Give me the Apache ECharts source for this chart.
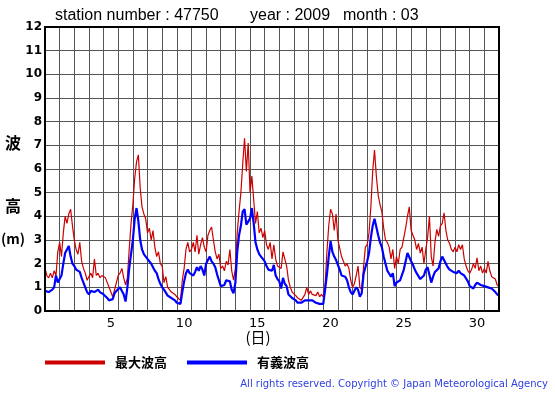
<!DOCTYPE html>
<html><head><meta charset="utf-8">
<script src="https://cdn.jsdelivr.net/npm/echarts@6/dist/echarts.min.js"></script>
<style>html,body{margin:0;padding:0;background:#fff}#c{width:555px;height:395px}</style>
</head><body><div id="c"></div>
<script>
// 3-hourly observations, March 2009, station 47750 (index i -> day offset i/8)
const maxWave = [
1.8,1.5,1.4,1.6,1.4,1.7,1.5,2.5,
2.9,2.3,3.3,4.0,3.7,4.1,4.3,3.6,
3.0,2.6,2.4,2.9,2.1,1.8,1.6,1.3,
1.3,1.6,1.4,2.2,1.5,1.6,1.4,1.5,
1.5,1.4,1.2,1.0,0.8,0.6,0.9,1.2,
1.5,1.6,1.8,1.4,1.1,1.4,2.6,3.7,
4.5,5.6,6.3,6.6,5.2,4.4,4.1,3.9,
3.3,3.5,3.0,3.4,2.7,2.3,2.5,2.0,
1.9,1.2,1.45,1.0,0.9,0.8,0.85,0.7,
0.6,0.55,0.45,1.3,1.8,2.6,2.9,2.5,
2.6,2.9,2.5,3.2,2.4,2.8,3.1,2.7,
2.5,3.2,3.4,3.55,3.0,2.5,2.2,2.4,
1.8,1.9,1.7,2.1,1.95,2.6,1.7,1.3,
1.8,3.3,4.2,5.0,6.2,7.3,5.9,7.1,
5.0,5.7,4.7,3.7,4.2,3.3,3.5,3.1,
3.4,2.8,2.6,2.9,2.2,2.8,2.2,1.9,
1.85,1.8,2.5,2.5,1.9,1.3,1.0,0.8,
0.75,0.65,0.55,0.5,0.45,0.5,0.7,1.0,
0.7,0.85,0.7,0.75,0.65,0.8,0.6,0.7,
0.6,1.1,2.5,3.6,4.3,4.1,3.4,4.1,
3.0,3.0,2.3,2.1,1.9,2.0,1.8,1.3,
1.0,1.15,1.5,1.9,1.0,0.9,1.85,2.7,
2.8,3.3,4.4,5.9,6.8,5.7,4.9,4.5,
4.2,3.5,3.0,2.9,2.7,2.2,2.6,1.8,
2.3,2.0,2.6,2.7,3.1,3.5,4.0,4.4,
3.4,3.2,3.0,2.6,2.85,2.45,2.7,2.0,
2.6,3.1,4.0,2.3,1.9,2.9,3.45,3.15,
3.6,3.7,4.15,3.4,3.0,2.85,2.6,2.5,
2.7,2.5,2.8,2.6,2.8,2.2,1.9,1.7,
1.6,1.75,2.0,1.8,2.25,1.7,1.9,1.6,
1.8,1.6,2.1,1.7,1.45,1.4,1.35,1.1,
1.05
];
const sigWave = [
0.85,0.85,0.8,0.85,0.9,1.0,1.5,1.2,
1.15,1.5,2.0,2.45,2.4,2.75,2.3,2.0,
1.9,1.75,1.7,1.65,1.4,1.2,1.0,0.8,
0.7,0.85,0.9,0.8,0.85,0.9,0.8,0.75,
0.7,0.65,0.55,0.45,0.4,0.5,0.75,0.85,
0.8,1.0,0.85,0.7,0.4,1.0,1.8,2.4,
3.0,3.9,4.35,3.8,3.0,2.6,2.4,2.3,
2.25,2.1,2.0,1.85,1.7,1.6,1.35,1.15,
1.0,0.9,0.85,0.65,0.6,0.55,0.55,0.45,
0.35,0.35,0.3,0.8,1.25,1.6,1.75,1.6,
1.55,1.5,1.65,1.85,1.7,1.9,1.75,1.5,
2.0,2.15,2.3,2.1,2.0,1.85,1.55,1.3,
1.05,1.0,1.1,1.3,1.35,1.25,0.9,0.75,
1.2,2.5,3.2,3.6,4.2,4.3,3.65,3.7,
3.9,4.35,3.7,2.9,2.6,2.4,2.3,2.2,
2.1,1.9,1.75,1.7,1.7,1.95,1.5,1.35,
1.25,0.95,1.4,1.15,1.05,0.7,0.62,0.55,
0.5,0.45,0.35,0.3,0.35,0.4,0.45,0.45,
0.45,0.5,0.45,0.45,0.35,0.35,0.3,0.3,
0.3,0.9,1.55,2.3,2.95,2.5,2.3,2.15,
2.1,1.75,1.5,1.5,1.45,1.3,1.0,0.8,
0.7,0.75,1.0,0.9,0.6,0.75,1.55,1.85,
2.1,2.45,3.1,3.6,3.9,3.55,3.2,2.9,
2.7,2.3,2.0,1.7,1.75,1.45,1.6,1.05,
1.2,1.25,1.3,1.35,1.75,2.1,2.45,2.45,
2.1,1.95,1.75,1.6,1.65,1.35,1.4,1.5,
1.75,1.85,1.9,1.2,1.45,1.65,1.7,1.8,
2.1,2.3,2.3,2.0,1.85,1.75,1.7,1.65,
1.7,1.6,1.7,1.6,1.65,1.5,1.45,1.25,
1.05,1.0,0.95,1.1,1.2,1.15,1.1,1.05,
1.05,1.05,1.0,0.95,0.95,0.9,0.8,0.7,
0.65
];
const days = ['1','2','3','4','5','6','7','8','9','10','11','12','13','14','15','16','17','18','19','20','21','22','23','24','25','26','27','28','29','30','31'];
const shownDays = ['5','10','15','20','25','30'];
const yTicks = [0,1,2,3,4,5,6,7,8,9,10,11,12];
const seriesNames = ['最大波高','有義波高'];
const titleParts = ['station number : 47750','year : 2009','month : 03'];
const copyright = 'All rights reserved. Copyright © Japan Meteorological Agency';

const STEP = 1/8; // 3 hours in days
const toPairs = arr => arr.map((v,i)=>[i*STEP, v]);

const chart = echarts.init(document.getElementById('c'), null, {renderer:'canvas'});
const latin = 'Liberation Sans, Arial, sans-serif';
const cjk = '"Noto Sans CJK JP", sans-serif';
chart.setOption({
  animation:false,
  backgroundColor:'#fff',
  grid:{left:45, top:27, width:454, height:284, show:true, borderColor:'#000', borderWidth:2, backgroundColor:'transparent', z:5},
  legend:{
    left:45, top:356, padding:0, icon:'rect', itemWidth:60, itemHeight:4, itemGap:20,
    data:seriesNames,
    textStyle:{fontFamily:cjk, fontWeight:'bold', fontSize:13, color:'#000', padding:[0,0,0,5]}
  },
  xAxis:[
    {type:'value', min:0, max:31, interval:1, axisLine:{show:false}, axisTick:{show:false},
     axisLabel:{show:false}, splitLine:{show:true, lineStyle:{color:'#555', width:1}}},
    {type:'category', data:days, position:'bottom', boundaryGap:true,
     axisLine:{show:false}, axisTick:{show:false}, splitLine:{show:false},
     axisLabel:{interval:0, margin:6, color:'#000', fontFamily:'DejaVu Sans', fontSize:13,
       formatter:v=> shownDays.indexOf(v)>=0 ? v : ''}}
  ],
  yAxis:{type:'value', min:yTicks[0], max:yTicks[yTicks.length-1], interval:1,
    axisLine:{show:false}, axisTick:{show:false},
    axisLabel:{color:'#000', fontFamily:'DejaVu Sans', fontWeight:'bold', fontSize:12, margin:3},
    splitLine:{show:true, lineStyle:{color:'#555', width:1}}},
  series:[
    {name:seriesNames[0], type:'line', xAxisIndex:0, showSymbol:false, symbol:'none',
     data:toPairs(maxWave), lineStyle:{color:'#cc0000', width:1.2}, itemStyle:{color:'#cc0000'}, z:3},
    {name:seriesNames[1], type:'line', xAxisIndex:0, showSymbol:false, symbol:'none',
     data:toPairs(sigWave), lineStyle:{color:'#0000ff', width:2.2}, itemStyle:{color:'#0000ff'}, z:4}
  ],
  graphic:[
    {type:'text', left:55, top:8, style:{text:titleParts[0], font:'16px '+latin, fill:'#000'}},
    {type:'text', left:250, top:8, style:{text:titleParts[1], font:'16px '+latin, fill:'#000'}},
    {type:'text', left:343, top:8, style:{text:titleParts[2], font:'16px '+latin, fill:'#000'}},
    {type:'text', x:13, y:143, style:{text:'波', font:'bold 16px '+cjk, fill:'#000', align:'center', verticalAlign:'middle'}},
    {type:'text', x:13, y:206, style:{text:'高', font:'bold 16px '+cjk, fill:'#000', align:'center', verticalAlign:'middle'}},
    {type:'text', x:13, y:239, style:{text:'(m)', font:'bold 14px '+cjk, fill:'#000', align:'center', verticalAlign:'middle'}},
    {type:'text', x:258, y:337, style:{text:'(日)', font:'15px '+cjk, fill:'#000', align:'center', verticalAlign:'middle'}},
    {type:'text', right:7, top:379, style:{text:copyright, font:'10px DejaVu Sans', fill:'#3040e0'}}
  ]
});
</script></body></html>
